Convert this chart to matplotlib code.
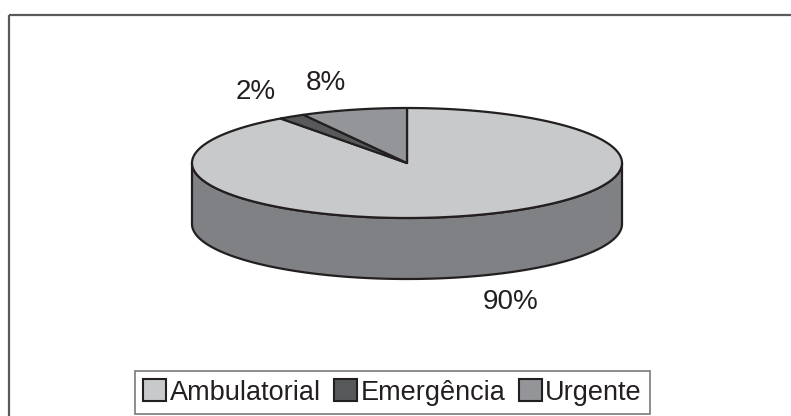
import numpy as np
import matplotlib
matplotlib.use("Agg")
import matplotlib.pyplot as plt
from matplotlib.patches import Polygon, Rectangle, Patch

labels = ["Ambulatorial", "Emergência", "Urgente"]
values = [90, 2, 8]
pct_labels = ["90%", "2%", "8%"]
top_colors = ["#c8c9cb", "#58595b", "#939598"]
side_colors = ["#808184", "#3f4042", "#6d6e71"]

W, H = 791, 416
cx, cy, rx, ry, depth = 407, 163, 215, 55, 61
edge = "#231f20"

plt.rcParams["font.family"] = ["Liberation Sans", "DejaVu Sans"]
fig = plt.figure(figsize=(W / 100, H / 100), dpi=100)
ax = fig.add_axes([0, 0, 1, 1])
ax.set_xlim(0, W); ax.set_ylim(H, 0); ax.axis("off")

# outer chart frame (runs off right/bottom of the crop)
ax.add_patch(Rectangle((9, 15), W + 20, H + 20, fill=False, ec="#58595b", lw=1.6))


def pt(theta, dz=0.0):
    return cx + rx * np.cos(theta), cy - ry * np.sin(theta) + dz


# slice angle ranges: start at 12 o'clock, clockwise
fracs = np.array(values, float) / sum(values)
starts = np.pi / 2 - 2 * np.pi * np.concatenate([[0], np.cumsum(fracs)[:-1]])
ends = starts - 2 * np.pi * fracs

# side walls (front half only: theta in [pi, 2pi])
for s, e, col in zip(starts, ends, side_colors):
    lo, hi = e, s
    for k in (-1, 0, 1):
        a, b = max(lo, np.pi + 2 * np.pi * k), min(hi, 2 * np.pi + 2 * np.pi * k)
        if b - a <= 1e-6:
            continue
        th = np.linspace(a, b, 200)
        x1, y1 = pt(th)
        x2, y2 = pt(th[::-1], depth)
        poly = np.column_stack([np.concatenate([x1, x2]), np.concatenate([y1, y2])])
        ax.add_patch(Polygon(poly, closed=True, fc=col, ec=edge, lw=1.6, joinstyle="round"))

# top faces
for s, e, col in zip(starts, ends, top_colors):
    th = np.linspace(s, e, 300)
    x, y = pt(th)
    poly = np.column_stack([np.concatenate([[cx], x]), np.concatenate([[cy], y])])
    ax.add_patch(Polygon(poly, closed=True, fc=col, ec=edge, lw=1.6, joinstyle="round"))

# percent labels
for s, e, txt in zip(starts, ends, pct_labels):
    m = (s + e) / 2
    c, sn = np.cos(m), np.sin(m)
    lx = cx + 1.14 * rx * c
    ly = cy - 1.25 * ry * sn + (depth if sn < 0 else 0)
    ax.text(lx, ly, txt, fontsize=20, color="#231f20",
            ha="left" if c > 0 else "right", va="top" if sn < 0 else "bottom")

handles = [Patch(fc=c, ec=edge, lw=1.5) for c in top_colors]
leg = ax.legend(handles, labels, ncol=3, loc="center", bbox_to_anchor=(392.5 / W, 1 - 392.5 / H),
                fontsize=19.5, frameon=True, fancybox=False, edgecolor="#58595b",
                handlelength=0.85, handleheight=0.85, handletextpad=0.12, columnspacing=0.5,
                borderpad=0.3, borderaxespad=0)
leg.get_frame().set_linewidth(1.2)
for t in leg.get_texts():
    t.set_color("#231f20")

fig.savefig("out.png", dpi=100)
